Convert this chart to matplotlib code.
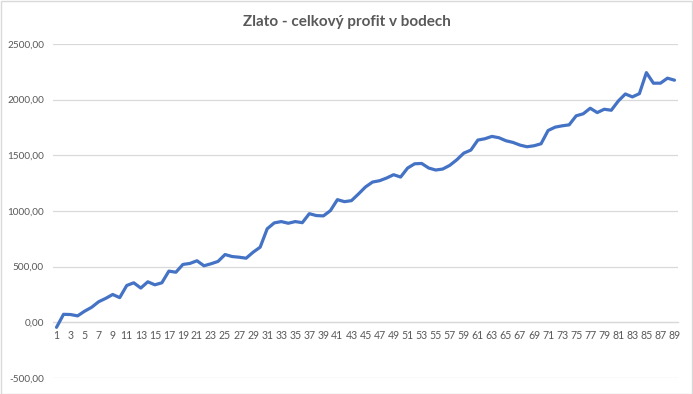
import matplotlib
matplotlib.use("Agg")
import matplotlib.pyplot as plt
from matplotlib.patches import Rectangle
from matplotlib.ticker import FuncFormatter

title = "Zlato - celkový profit v bodech"
categories = list(range(1, 90))
profit = [
    -45, 72, 70, 58, 100, 135, 185, 215, 250, 222,
    331, 355, 308, 364, 337, 355, 460, 450, 520, 529,
    553, 508, 526, 547, 609, 591, 585, 576, 630, 675,
    840, 893, 905, 890, 905, 895, 976, 959, 956, 1003,
    1102, 1084, 1093, 1153, 1216, 1260, 1272, 1296, 1326, 1305,
    1386, 1424, 1427, 1386, 1368, 1377, 1410, 1460, 1520, 1547,
    1637, 1649, 1670, 1658, 1631, 1616, 1592, 1577, 1586, 1604,
    1723, 1753, 1765, 1774, 1855, 1873, 1923, 1884, 1914, 1905,
    1988, 2051, 2025, 2054, 2243, 2148, 2148, 2193, 2175,
]
y_ticks = [-500, 0, 500, 1000, 1500, 2000, 2500]
x_tick_labels = [str(c) for c in categories if c % 2 == 1]

plt.rcParams['font.family'] = ['Lato', 'DejaVu Sans']

fig = plt.figure(figsize=(6.93, 3.94), dpi=100)
ax = fig.add_axes([53 / 693, 1 - 378 / 394, 625 / 693, 334 / 394])

ax.plot(categories, profit, color="#4472C4", linewidth=2.3,
        solid_joinstyle="round", solid_capstyle="round", zorder=3)

ax.set_xlim(0.5, 89.5)
ax.set_ylim(-500, 2500)
ax.set_yticks(y_ticks)
ax.yaxis.set_major_formatter(FuncFormatter(lambda v, p: f"{v:.2f}".replace(".", ",")))
ax.grid(axis="y", color="#d9d9d9", linewidth=0.9, zorder=0)
ax.set_axisbelow(True)

odd = [c for c in categories if c % 2 == 1]
ax.set_xticks(odd)
ax.set_xticklabels(x_tick_labels)

for s in ["top", "right", "left"]:
    ax.spines[s].set_visible(False)
ax.spines["bottom"].set_position(("data", 0))
ax.spines["bottom"].set_color("#d9d9d9")
ax.spines["bottom"].set_linewidth(0.9)

ax.tick_params(axis="both", length=0, labelcolor="#595959")
ax.tick_params(axis="y", pad=6.5, labelsize=7.2)
ax.tick_params(axis="x", pad=5.5, labelsize=7.6)

fig.text(0.5, 1 - 22 / 394, title, ha="center", va="center",
         fontsize=11, fontweight="bold", color="#595959")

fig.patches.append(Rectangle((0.5 / 693, 0.5 / 394), 1 - 1.5 / 693, 1 - 1.5 / 394,
                             transform=fig.transFigure, fill=False,
                             edgecolor="#d9d9d9", linewidth=1))

fig.savefig("out.png", dpi=100)
